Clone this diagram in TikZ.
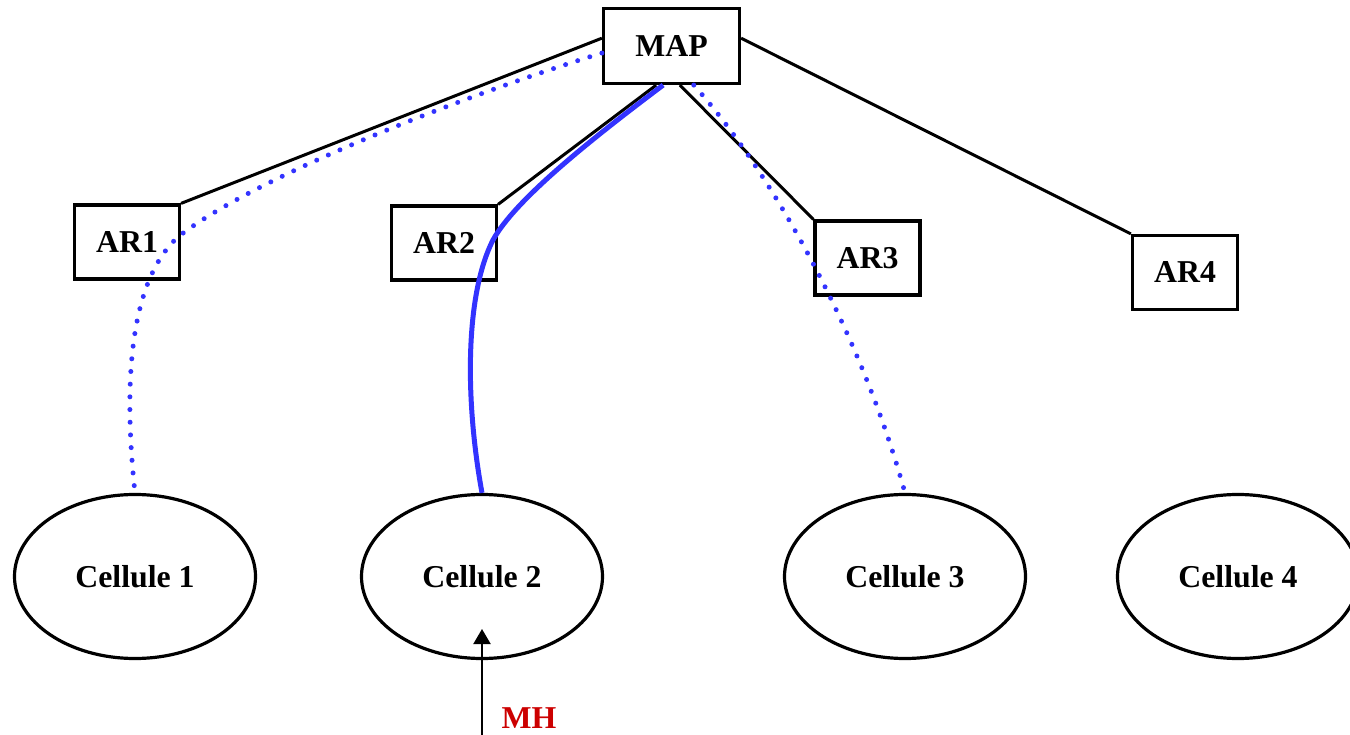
\documentclass[tikz,border=0pt]{standalone}
\usepackage{fontspec}
\setmainfont{Liberation Serif}
\usetikzlibrary{calc,arrows.meta,shapes.geometric}
\definecolor{linkblue}{RGB}{51,51,255}
\definecolor{mhred}{RGB}{204,0,0}
\begin{document}
\begin{tikzpicture}[x=1pt,y=-1pt,
  lbl/.style={font=\fontsize{31.8}{32}\selectfont\bfseries},
  arbox/.style={lbl,draw,line width=3.2pt,rectangle,inner sep=0pt,minimum width=105pt,minimum height=74pt},
  cell/.style={lbl,draw,line width=3.2pt,ellipse,inner sep=0pt,minimum width=241pt,minimum height=164pt},
  link/.style={line width=3pt},
  bluesolid/.style={draw=linkblue,line width=5pt},
  bluedot/.style={draw=linkblue,line width=5pt,line cap=round,dash pattern=on 0pt off 12.7pt},
]
\useasboundingbox (0,0) rectangle (1350,735);

\node[arbox,minimum width=136pt,minimum height=75pt] (MAP) at (671.5,46) {MAP};
\node[arbox] (AR1) at (127,242) {AR1};
\node[arbox] (AR2) at (444,243) {AR2};
\node[arbox] (AR3) at (867.5,258) {AR3};
\node[arbox] (AR4) at (1185,272.5) {AR4};

\node[cell] (C1) at (135,576.5) {Cellule 1};
\node[cell] (C2) at (482,576.5) {Cellule 2};
\node[cell] (C3) at (905,576.5) {Cellule 3};
\node[cell] (C4) at (1238,576.5) {Cellule 4};

\draw[link] ($(MAP.north west)!0.4!(MAP.south west)$) -- (AR1.north east);
\draw[link] ($(MAP.south west)!0.39!(MAP.south east)$) -- (AR2.north east);
\draw[link] ($(MAP.south west)!0.56!(MAP.south east)$) -- (AR3.north west);
\draw[link] ($(MAP.north east)!0.4!(MAP.south east)$) -- (AR4.north west);

\coordinate (bendA) at (178,237);
\coordinate (bendB) at (493,240);
\draw[bluedot] ($(MAP.north west)!0.59!(MAP.south west)$) .. controls (450,100) and (250,180) .. (bendA) .. controls (125,285) and (125,400) .. (C1.north);
\draw[bluesolid] ($(MAP.south west)!0.44!(MAP.south east)$) .. controls (590,140) and (515,200) .. (bendB) .. controls (465,295) and (465,400) .. (C2.north);
\draw[bluedot] ($(MAP.south west)!0.66!(MAP.south east)$) .. controls (770,170) and (860,330) .. (C3.north);

\coordinate (mhfoot) at (482,735);
\coordinate (mhtip) at (482,629);
\draw[line width=2pt,-{Triangle[width=17pt,length=15pt]}] (mhfoot) -- (mhtip);
\node[lbl,text=mhred,anchor=base] (MH) at (529,728) {MH};
\end{tikzpicture}
\end{document}
